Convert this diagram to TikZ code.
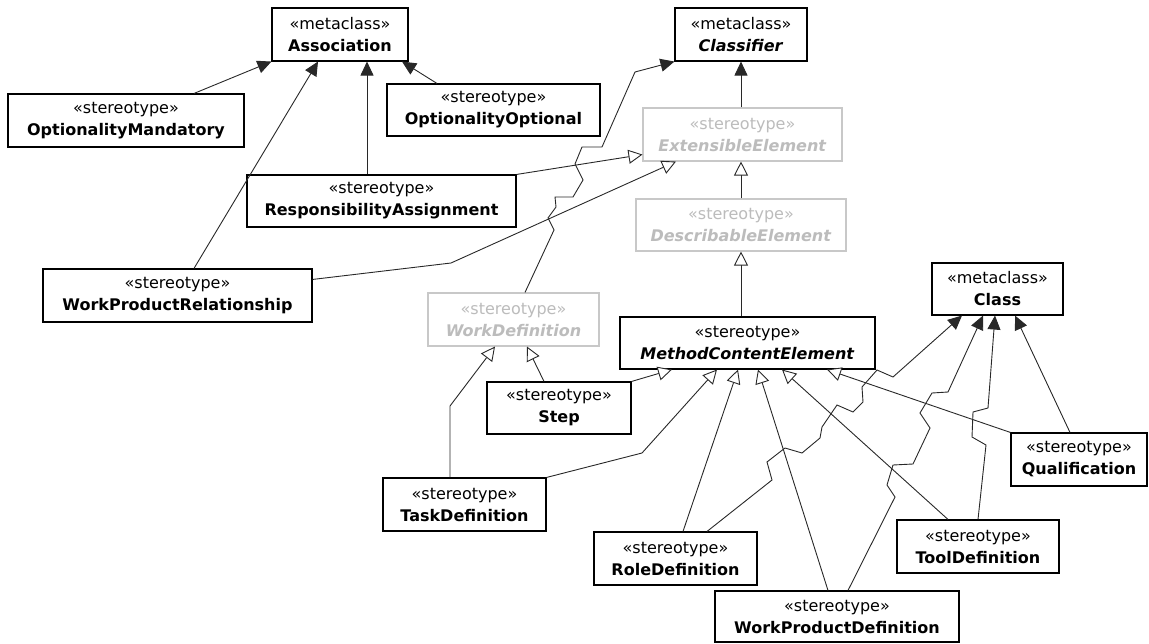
\documentclass[tikz,border=0pt]{standalone}
\usepackage{fontspec}
\setmainfont{DejaVu Sans}
\usetikzlibrary{arrows.meta,calc}
\definecolor{boxgray}{RGB}{200,200,200}
\definecolor{textgray}{RGB}{188,188,188}
\definecolor{linecol}{RGB}{40,40,40}
\tikzset{
  uml/.style={draw=black, line width=1.1pt, fill=white, inner sep=0pt, align=center,
    font=\fontsize{16}{22}\selectfont, minimum height=53pt},
  umlgray/.style={uml, draw=boxgray, text=textgray},
  genarr/.style={draw=linecol, line width=0.9pt, -{Triangle[fill=white, length=14pt, width=14pt]}},
  extarr/.style={draw=linecol, line width=0.9pt, -{Triangle[length=14pt, width=13pt]}},
}
\begin{document}
\begin{tikzpicture}[x=1pt,y=-1pt]
\useasboundingbox (0,0) rectangle (1149,643);
% nodes
\node[uml, minimum width=136pt] (assoc) at (340,34.5) {«metaclass»\\\textbf{Association}};
\node[uml, minimum width=132pt] (clsf) at (741,34.5) {«metaclass»\\\textbf{\textit{Classifier}}};
\node[uml, minimum width=236pt] (om) at (126,120.5) {«stereotype»\\\textbf{OptionalityMandatory}};
\node[uml, minimum width=213pt, minimum height=52pt] (oo) at (493.5,110) {«stereotype»\\\textbf{OptionalityOptional}};
\node[umlgray, minimum width=199pt] (ext) at (742.5,134.5) {«stereotype»\\\textbf{\textit{ExtensibleElement}}};
\node[uml, minimum width=269pt, minimum height=52pt] (ra) at (381.5,201) {«stereotype»\\\textbf{ResponsibilityAssignment}};
\node[umlgray, minimum width=210pt, minimum height=52pt] (desc) at (741,225) {«stereotype»\\\textbf{\textit{DescribableElement}}};
\node[uml, minimum width=269pt] (wpr) at (177.5,295.5) {«stereotype»\\\textbf{WorkProductRelationship}};
\node[uml, minimum width=131pt, minimum height=52pt] (cls) at (997.5,289) {«metaclass»\\\textbf{Class}};
\node[umlgray, minimum width=171pt] (wd) at (513.5,319.5) {«stereotype»\\\textbf{\textit{WorkDefinition}}};
\node[uml, minimum width=255pt, minimum height=52pt] (mce) at (747.5,343) {«stereotype»\\\textbf{\textit{MethodContentElement}}};
\node[uml, minimum width=144pt, minimum height=52pt] (step) at (559,408) {«stereotype»\\\textbf{Step}};
\node[uml, minimum width=136pt] (qual) at (1079,459.5) {«stereotype»\\\textbf{Qualification}};
\node[uml, minimum width=163pt] (task) at (464.5,504.5) {«stereotype»\\\textbf{TaskDefinition}};
\node[uml, minimum width=162pt] (tool) at (978,546.5) {«stereotype»\\\textbf{ToolDefinition}};
\node[uml, minimum width=163pt] (role) at (675.5,558.5) {«stereotype»\\\textbf{RoleDefinition}};
\node[uml, minimum width=244pt, minimum height=51pt] (wpd) at (837,616.5) {«stereotype»\\\textbf{WorkProductDefinition}};
% extensions to Association
\draw[extarr] ([xshift=68pt]om.north) -- (assoc.south west);
\draw[extarr] ([xshift=16.5pt]wpr.north) -- ([xshift=-22pt]assoc.south);
\draw[extarr] ([xshift=-14.5pt]ra.north) -- ([xshift=27pt]assoc.south);
\draw[extarr] ([xshift=-56.5pt]oo.north) -- ([xshift=62pt]assoc.south);
% generalizations to ExtensibleElement
\draw[genarr] (ra.north east) -- ([yshift=7pt]ext.south west);
\draw[genarr] ([yshift=-11pt]wpr.north east) -- (451,263) -- ([xshift=-66.5pt]ext.south);
% WorkDefinition to Classifier
\draw[extarr] ([xshift=11.5pt]wd.north) -- (554,230) -- (548,218) -- (556,207) -- (555,197)
  -- (573,197) -- (583,180) -- (575,164) -- (582,147) -- (602,147) -- (635,72) -- (clsf.south west);
% spine
\draw[extarr] (clsf.south |- ext.north) -- (clsf.south);
\draw[genarr] (desc.north) -- (desc.north |- ext.south);
\draw[genarr] (desc.south |- mce.north) -- (desc.south);
% to WorkDefinition
\draw[genarr] ([xshift=-14.5pt]task.north) -- (450,406) -- ([xshift=-18.5pt]wd.south);
\draw[genarr] ([xshift=-15pt]step.north) -- ([xshift=13.5pt]wd.south);
% to MethodContentElement
\draw[genarr] (step.north east) -- ([xshift=-75.5pt]mce.south);
\draw[genarr] (task.north east) -- (642,453) -- ([xshift=-30.5pt]mce.south);
\draw[genarr] ([xshift=7.5pt]role.north) -- ([xshift=-9.5pt]mce.south);
\draw[genarr] ([xshift=-9pt]wpd.north) -- ([xshift=10.5pt]mce.south);
\draw[genarr] ([xshift=-30pt]tool.north) -- ([xshift=34.5pt]mce.south);
\draw[genarr] (qual.north west) -- ([xshift=79.5pt]mce.south);
% to Class
\draw[extarr] ([xshift=31.5pt]role.north) -- (772,480) -- (767,462) -- (785,448) -- (802,453)
  -- (820,438) -- (822,427) -- (837,405) -- (853,412) -- (863,402) -- (862,387) -- (877,370)
  -- (893,377) -- ([xshift=-35.5pt]cls.south);
\draw[extarr] ([xshift=11pt]wpd.north) -- (895,497) -- (887,485) -- (893,465) -- (913,464)
  -- (930,428) -- (920,413) -- (932,393) -- (948,392) -- ([xshift=-14.5pt]cls.south);
\draw[extarr] (tool.north) -- (986,445) -- (972,437) -- (973,412) -- (988,408) -- ([xshift=-2.5pt]cls.south);
\draw[extarr] ([xshift=-9pt]qual.north) -- ([xshift=17.5pt]cls.south);
\end{tikzpicture}
\end{document}
